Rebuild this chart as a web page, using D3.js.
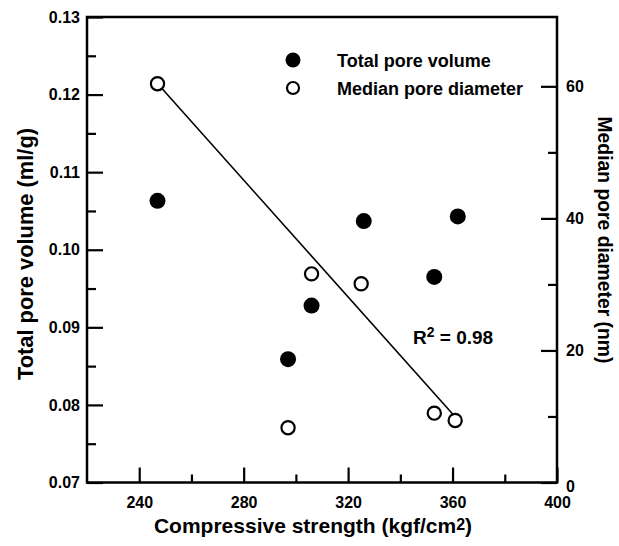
<!DOCTYPE html>
<html><head><meta charset="utf-8">
<script src="https://cdn.jsdelivr.net/npm/d3@7"></script>
<style>
body{margin:0;background:#fff;}
text{font-family:"Liberation Sans",Arial,sans-serif;font-weight:bold;fill:#000;}
</style></head>
<body><svg id="c" width="619" height="546"></svg>
<script>
// Data
const strength = [247, 297, 306, 326, 353, 362];
const totalPoreVolume = [0.1063, 0.0859, 0.0928, 0.1037, 0.0965, 0.1043];
const medianStrength = [247, 297, 306, 325, 353, 361];
const medianPoreDiameter = [60.4, 8.3, 31.6, 30.1, 10.5, 9.4];
const fitX = [247.5, 362];
const fitY = [60.2, 9.5];
const xTicks = [240, 280, 320, 360, 400];
const xMinor = [260, 300, 340, 380];
const yLeftTicks = [0.07, 0.08, 0.09, 0.10, 0.11, 0.12, 0.13];
const yLeftMinor = [0.075, 0.085, 0.095, 0.105, 0.115, 0.125];
const yRightTicks = [0, 20, 40, 60];
const yRightMinor = [10, 30, 50];
const legendLabels = ["Total pore volume", "Median pore diameter"];

const svg = d3.select("#c");
const L = 87, R = 557, T = 17, B = 482.5;
const x = d3.scaleLinear().domain([220, 400]).range([L, R]);
const yL = d3.scaleLinear().domain([0.07, 0.13]).range([B, T]);
const yR = d3.scaleLinear().domain([0, 70.5]).range([B, T]);

function styleAxis(g, fs){
  g.select(".domain").remove();
  g.selectAll("line").attr("stroke","#000").attr("stroke-width",2.2);
  g.selectAll("text").style("font-size", fs+"px");
}
// frame
svg.append("rect").attr("x",L).attr("y",T).attr("width",R-L).attr("height",B-T)
  .attr("fill","none").attr("stroke","#000").attr("stroke-width",2.5);

// bottom axis
svg.append("g").attr("transform",`translate(0,${B})`)
  .call(d3.axisBottom(x).tickValues(xMinor).tickSize(-8).tickFormat(""))
  .call(g=>styleAxis(g,16));
svg.append("g").attr("transform",`translate(0,${B})`)
  .call(d3.axisBottom(x).tickValues(xTicks).tickSize(-15).tickPadding(14).tickFormat(d3.format("d")))
  .call(g=>styleAxis(g,16));
// left axis
svg.append("g").attr("transform",`translate(${L},0)`)
  .call(d3.axisLeft(yL).tickValues(yLeftMinor).tickSize(-9).tickFormat(""))
  .call(g=>styleAxis(g,16));
svg.append("g").attr("transform",`translate(${L},0)`)
  .call(d3.axisLeft(yL).tickValues(yLeftTicks).tickSize(-16).tickPadding(7).tickFormat(d3.format(".2f")))
  .call(g=>styleAxis(g,16));
// right axis
svg.append("g").attr("transform",`translate(${R},0)`)
  .call(d3.axisRight(yR).tickValues(yRightMinor).tickSize(-9).tickFormat(""))
  .call(g=>styleAxis(g,16));
const ra = svg.append("g").attr("transform",`translate(${R},0)`)
  .call(d3.axisRight(yR).tickValues(yRightTicks).tickSize(-16).tickPadding(9).tickFormat(d3.format("d")))
  .call(g=>styleAxis(g,16));
ra.selectAll(".tick").filter(d=>d===0).select("text").attr("dy","0.55em");

// fit line
svg.append("line")
  .attr("x1",x(fitX[0])).attr("y1",yR(fitY[0]))
  .attr("x2",x(fitX[1])).attr("y2",yR(fitY[1]))
  .attr("stroke","#000").attr("stroke-width",1.6);

// points
svg.append("g").selectAll("circle").data(strength.map((s,i)=>[s,totalPoreVolume[i]]))
  .join("circle").attr("cx",d=>x(d[0])).attr("cy",d=>yL(d[1])).attr("r",8).attr("fill","#000");
svg.append("g").selectAll("circle").data(medianStrength.map((s,i)=>[s,medianPoreDiameter[i]]))
  .join("circle").attr("cx",d=>x(d[0])).attr("cy",d=>yR(d[1])).attr("r",6.6)
  .attr("fill","#fff").attr("stroke","#000").attr("stroke-width",2.2);

// legend
const lg = svg.append("g");
lg.append("circle").attr("cx",293).attr("cy",60).attr("r",7.5).attr("fill","#000");
lg.append("circle").attr("cx",293).attr("cy",88).attr("r",6).attr("fill","#fff").attr("stroke","#000").attr("stroke-width",2.2);
lg.append("text").attr("x",337).attr("y",66.5).style("font-size","18px").text(legendLabels[0]);
lg.append("text").attr("x",337).attr("y",94.5).style("font-size","18px").text(legendLabels[1]);

// R2
const r2 = svg.append("text").attr("x",413).attr("y",344).style("font-size","19px");
r2.append("tspan").text("R");
r2.append("tspan").attr("dy",-7).style("font-size","14px").text("2");
r2.append("tspan").attr("dy",7).text(" = 0.98");

// axis titles
const xt = svg.append("text").attr("x",313).attr("y",533).attr("text-anchor","middle").style("font-size","21px");
xt.append("tspan").text("Compressive strength (kgf/cm");
xt.append("tspan").attr("dy",-3).style("font-size","16px").text("2");
xt.append("tspan").attr("dy",3).text(")");
svg.append("text").attr("transform","translate(33,254) rotate(-90)").attr("text-anchor","middle")
  .style("font-size","22px").attr("textLength",252).attr("lengthAdjust","spacingAndGlyphs")
  .text("Total pore volume (ml/g)");
svg.append("text").attr("transform","translate(598,240) rotate(90)").attr("text-anchor","middle")
  .style("font-size","21px").attr("textLength",247).attr("lengthAdjust","spacingAndGlyphs")
  .text("Median pore diameter (nm)");
</script></body></html>
